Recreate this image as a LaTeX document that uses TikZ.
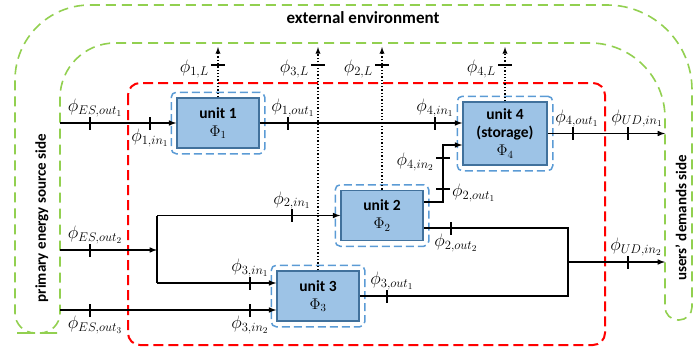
\RequirePackage{fix-cm}
\documentclass[tikz,border=0pt]{standalone}
\usepackage{fontspec}
\setmainfont{Carlito}
\usetikzlibrary{positioning,fit}

\definecolor{envgreen}{HTML}{92D050}
\definecolor{sysred}{HTML}{FF0000}
\definecolor{framblue}{HTML}{5B9BD5}
\definecolor{unitfill}{HTML}{9DC3E6}
\definecolor{unitline}{HTML}{41719C}

\tikzset{
  unit/.style={draw=unitline, fill=unitfill, line width=1.5pt, minimum width=82pt,
    minimum height=50pt, align=center, inner sep=0pt,
    font=\fontsize{15.5}{18}\selectfont\bfseries},
  unitframe/.style={draw=framblue, dash pattern=on 8pt off 4pt, line width=1.5pt,
    rounded corners=5pt, inner sep=5pt},
  wire/.style={line width=1.5pt},
  flow/.style={wire, -latex},
  loss/.style={line width=1.3pt, dotted, -latex},
  vtick/.style={fill=black, inner sep=0pt, minimum width=2pt, minimum height=13pt},
  htick/.style={fill=black, inner sep=0pt, minimum width=14pt, minimum height=2pt},
  flowlabel/.style={inner sep=1pt, font=\fontsize{18}{21}\selectfont},
  sidelabel/.style={font=\fontsize{15}{18}\selectfont\bfseries, rotate=90}
}

\begin{document}
\begin{tikzpicture}[x=1pt, y=-1pt]
  \useasboundingbox (0,0) rectangle (695,348);

  % boundaries
  \draw[envgreen, line width=1.6pt, dash pattern=on 10pt off 6pt]
    (37,333) [rounded corners=20pt] -- (15,333) [rounded corners=75pt] -- (15,5)
    [rounded corners=85pt] -- (692,5) [rounded corners=13pt] -- (692,320) -- (665,320)
    [rounded corners=75pt] -- (665,43) [rounded corners=55pt] -- (60,43)
    [rounded corners=20pt] -- (60,333) -- cycle;
  \draw[sysred, line width=2pt, dash pattern=on 10pt off 5pt, rounded corners=12pt]
    (128,83) rectangle (605,345);

  \node[font=\fontsize{17}{20}\selectfont\bfseries] (envlabel) at (363,18) {external environment};
  \node[sidelabel] (srcside) at (42,218) {primary energy source side};
  \node[sidelabel] (demside) at (681,218) {users' demands side};

  % units
  \node[unit] (u1) at (218,123) {unit 1\\$\Phi_1$};
  \node[unit, minimum width=84pt, minimum height=63pt] (u4) at (505,133.5) {unit 4\\(storage)\\$\Phi_4$};
  \node[unit] (u2) at (382,215.5) {unit 2\\$\Phi_2$};
  \node[unit] (u3) at (318,296) {unit 3\\$\Phi_3$};
  \foreach \u in {u1,u2,u3,u4}
    \node[unitframe, fit=(\u)] (f\u) {};

  \coordinate (es1) at (60,123);
  \coordinate (es2) at (60,250);
  \coordinate (es3) at (60,310);
  \coordinate (sp) at (157,250);
  \coordinate (ud1) at (665,133.5);
  \coordinate (ud2) at (665,262);
  \coordinate (mg) at (568,262);
  \coordinate (bend4) at (443,145);
  \coordinate (top) at (0,47);
  \coordinate (u4in1) at ([yshift=10.5pt]u4.west);
  \coordinate (u4in2) at ([yshift=-11.5pt]u4.west);
  \coordinate (u2out1) at ([yshift=13.5pt]u2.east);
  \coordinate (u2out2) at ([yshift=-12.5pt]u2.east);
  \coordinate (u3in1) at ([yshift=13pt]u3.west);
  \coordinate (u3in2) at ([yshift=-14pt]u3.west);

  % energy flows
  \draw[flow] (es1) -- (u1);
  \draw[flow] (u1) -- (u4in1);
  \draw[flow] (u4) -- (ud1);
  \draw[flow] (es2) -- (sp);
  \draw[wire] (sp|-u2) -- (sp|-u3in1);
  \draw[flow] (sp|-u2) -- (u2);
  \draw[flow] (sp|-u3in1) -- (u3in1);
  \draw[flow] (es3) -- (u3in2);
  \draw[flow] (u2out1) -| (bend4) -- (u4in2);
  \draw[wire] (u2out2) -| (mg);
  \draw[wire] (u3) -| (mg);
  \draw[flow] (mg) -- (ud2);

  % losses
  \draw[loss] (u1) -- (u1|-top);
  \draw[loss] (u3) -- (u3|-top);
  \draw[loss] (u2.north) -- (u2.north|-top);
  \draw[loss] (u4) -- (u4|-top);

  % flow marks
  \foreach \px/\py/\side/\dx/\txt [count=\i] in
    {90/123/above/5pt/{ES,out_1}, 150/123/below/0pt/{1,in_1},
     288/123/above/5pt/{1,out_1}, 435/123/above/0pt/{4,in_1},
     573/133.5/above/4pt/{4,out_1}, 628/133.5/above/9pt/{UD,in_1},
     292/215.5/above/0pt/{2,in_1}, 451/228/below/5pt/{2,out_2},
     90/250/above/5pt/{ES,out_2}, 250/283/above/0pt/{3,in_1},
     387/296/above/5pt/{3,out_1}, 628/262/above/8pt/{UD,in_2},
     90/310/below/5pt/{ES,out_3}, 250/310/below/0pt/{3,in_2}}
    \path (\px,\py) node[vtick] (vt\i) {}
      node[flowlabel, \side=5pt, xshift=\dx] (vl\i) {$\phi_{\txt}$};

  \foreach \px/\py/\side/\txt [count=\i] in
    {218/65/left/{1,L}, 318/65/left/{3,L}, 382/65/left/{2,L}, 505/65/left/{4,L},
     443/158/left/{4,in_2}, 443/189/right/{2,out_1}}
    \path (\px,\py) node[htick] (ht\i) {}
      node[flowlabel, \side=8pt, yshift=-4pt] (hl\i) {$\phi_{\txt}$};
\end{tikzpicture}
\end{document}
